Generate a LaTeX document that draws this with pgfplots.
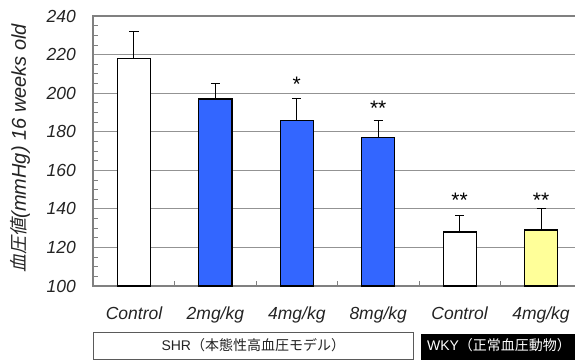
\documentclass[border=0pt]{standalone}
\usepackage{pgfplots}
\pgfplotsset{compat=1.18}
\usepackage{pgfplotstable}
\usepackage{fontspec}
\setmainfont{Liberation Sans}
\newfontfamily\cjk{Noto Sans CJK JP}
\newfontfamily\cjkit[FakeSlant=0.2]{Noto Sans CJK JP}
\definecolor{barblue}{RGB}{51,102,255}
\definecolor{baryel}{RGB}{255,255,153}
\definecolor{framegray}{RGB}{128,128,128}
\definecolor{txt}{RGB}{35,35,35}

\pgfplotstableread{
x y err
0 218 14
4 128 8.5
}\whitebars
\pgfplotstableread{
x y err
1 197 8
2 186 11
3 177 9
}\bluebars
\pgfplotstableread{
x y err
5 129 11
}\yellowbars

\begin{document}
\begin{tikzpicture}
\clip (-93.3pt,-75pt) rectangle (481.7pt,286pt);
\begin{axis}[
  at={(0,0)}, anchor=south west,
  scale only axis, width=488.4pt, height=270pt,
  xmin=-0.5, xmax=5.5, ymin=100, ymax=240,
  ybar, bar width=33pt, bar shift=0pt,
  xtick={0,...,5},
  xticklabels={Control,2mg/kg,4mg/kg,8mg/kg,Control,4mg/kg},
  minor x tick num=1,
  ytick={100,120,...,240}, minor y tick num=3,
  tick pos=left, tick align=inside,
  major tick length=0pt, minor tick length=5pt,
  tick style={framegray, line width=0.8pt},
  ymajorgrids, grid style={framegray!85, line width=0.9pt},
  axis line style={framegray, line width=2pt},
  /pgf/number format/assume math mode=true,
  yticklabel style={font=\fontsize{17.5}{18}\selectfont\itshape, text=txt, xshift=-14pt},
  xticklabel style={font=\fontsize{17.5}{18}\selectfont\itshape, text=txt, yshift=-17.5pt},
  ylabel={{\fontsize{18}{18}\selectfont\cjkit 血圧値}\textit{(mmHg) 16 weeks old}},
  every axis y label/.style={at={(rel axis cs:0,0)}, anchor=center, xshift=-73pt, yshift=138pt, rotate=90, font=\fontsize{20}{20}\selectfont, text=txt},
  error bars/error mark=|,
]
\addplot[fill=white, draw=black, line width=1.2pt,
  error bars/.cd, y dir=plus, y explicit,
  error bar style={black, line width=1pt},
  error mark options={black, line width=1pt, mark size=4.5pt}]
  table[x=x, y=y, y error=err] {\whitebars};
\addplot[fill=barblue, draw=black, line width=1.2pt,
  error bars/.cd, y dir=plus, y explicit,
  error bar style={black, line width=1pt},
  error mark options={black, line width=1pt, mark size=4.5pt}]
  table[x=x, y=y, y error=err] {\bluebars};
\addplot[fill=baryel, draw=black, line width=1.2pt,
  error bars/.cd, y dir=plus, y explicit,
  error bar style={black, line width=1pt},
  error mark options={black, line width=1pt, mark size=4.5pt}]
  table[x=x, y=y, y error=err] {\yellowbars};
\node[font=\fontsize{21}{21}\selectfont, anchor=base] at (axis cs:2,201) {*};
\node[font=\fontsize{21}{21}\selectfont, anchor=base] at (axis cs:3,188.5) {**};
\node[font=\fontsize{21}{21}\selectfont, anchor=base] at (axis cs:4,140.5) {**};
\node[font=\fontsize{21}{21}\selectfont, anchor=base] at (axis cs:5,140.5) {**};
\end{axis}
\draw[framegray!70!black, line width=0.8pt, fill=white] (0,-46.7pt) rectangle (320pt,-73.3pt);
\node[font=\fontsize{14}{14}\selectfont, text=txt] at (160pt,-59pt) {SHR{\cjk （本態性高血圧モデル）}};
\fill[black] (327.4pt,-47.5pt) rectangle (495pt,-74pt);
\node[font=\fontsize{14}{14}\selectfont, text=white] at (405.7pt,-59.5pt) {WKY{\cjk （正常血圧動物）}};
\end{tikzpicture}
\end{document}
